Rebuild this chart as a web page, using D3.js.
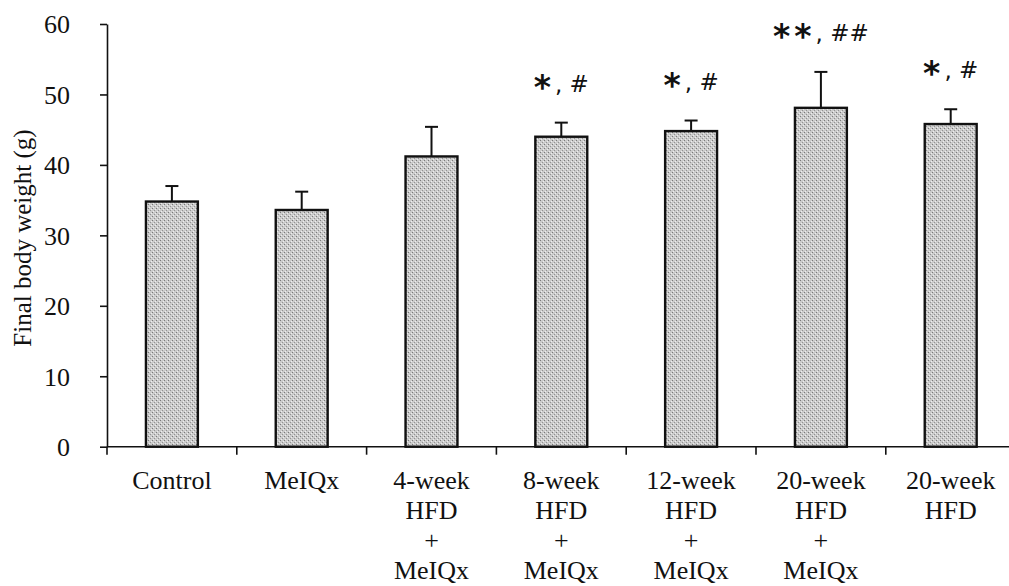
<!DOCTYPE html>
<html>
<head>
<meta charset="utf-8">
<script src="https://cdn.jsdelivr.net/npm/d3@7"></script>
<style>
  body { margin: 0; background: #fff; }
  svg { display: block; }
</style>
</head>
<body>
<div id="chart"></div>
<script>
// groups, mean final body weight (g) and SD
const groups = ["Control", "MeIQx", "4wk+MeIQx", "8wk+MeIQx", "12wk+MeIQx", "20wk+MeIQx", "20wk"];
const groupLabels = [
    ["Control"],
    ["MeIQx"],
    ["4-week", "HFD", "+", "MeIQx"],
    ["8-week", "HFD", "+", "MeIQx"],
    ["12-week", "HFD", "+", "MeIQx"],
    ["20-week", "HFD", "+", "MeIQx"],
    ["20-week", "HFD"]
];
const means = [34.8, 33.6, 41.2, 44.0, 44.8, 48.1, 45.8];
const sds = [2.2, 2.6, 4.2, 2.0, 1.5, 5.1, 2.1];
const stars = ["", "", "", "*", "*", "**", "*"];
const hashes = ["", "", "", "#", "#", "##", "#"];
const yTicks = [0, 10, 20, 30, 40, 50, 60];

const data = groups.map((g, i) => ({
    group: g, mean: means[i], sd: sds[i], star: stars[i], hash: hashes[i], lines: groupLabels[i]
}));

const W = 1009, H = 586;
const x0 = 107, bandW = 129.8;

const svg = d3.select("#chart").append("svg")
    .attr("width", W)
    .attr("height", H);

// stipple fill for the bars
const defs = svg.append("defs");
const pat = defs.append("pattern")
    .attr("id", "stipple")
    .attr("width", 4).attr("height", 4)
    .attr("patternUnits", "userSpaceOnUse");
pat.append("rect").attr("width", 4).attr("height", 4).attr("fill", "#cbcbcb");
pat.append("rect").attr("x", 0).attr("y", 0).attr("width", 1).attr("height", 1).attr("fill", "#7a7a7a");
pat.append("rect").attr("x", 2).attr("y", 2).attr("width", 1).attr("height", 1).attr("fill", "#939393");
pat.append("rect").attr("x", 3).attr("y", 1).attr("width", 1).attr("height", 1).attr("fill", "#eeeeee");
pat.append("rect").attr("x", 1).attr("y", 3).attr("width", 1).attr("height", 1).attr("fill", "#eeeeee");

const x = d3.scaleBand()
    .domain(groups)
    .range([x0, x0 + bandW * groups.length])
    .padding(0);

const y = d3.scaleLinear()
    .domain([0, 60])
    .range([446.7, 24]);

const barW = x.bandwidth() * 0.4;
const serif = "'Liberation Serif', 'Times New Roman', serif";

// bars
svg.selectAll(".bar")
    .data(data)
    .enter().append("rect")
    .attr("class", "bar")
    .attr("x", d => x(d.group) + (x.bandwidth() - barW) / 2)
    .attr("y", d => y(d.mean))
    .attr("width", barW)
    .attr("height", d => y(0) - y(d.mean))
    .attr("fill", "url(#stipple)")
    .attr("stroke", "#111")
    .attr("stroke-width", 2.4);

// error bars (upper only)
const err = svg.selectAll(".err")
    .data(data)
    .enter().append("g")
    .attr("class", "err")
    .attr("stroke", "#111")
    .attr("stroke-width", 2);
err.append("line")
    .attr("x1", d => x(d.group) + x.bandwidth() / 2)
    .attr("x2", d => x(d.group) + x.bandwidth() / 2)
    .attr("y1", d => y(d.mean))
    .attr("y2", d => y(d.mean + d.sd));
err.append("line")
    .attr("x1", d => x(d.group) + x.bandwidth() / 2 - 6.5)
    .attr("x2", d => x(d.group) + x.bandwidth() / 2 + 6.5)
    .attr("y1", d => y(d.mean + d.sd))
    .attr("y2", d => y(d.mean + d.sd));

// significance marks: big low asterisks, then ", #"
const mk = svg.selectAll(".mark")
    .data(data.filter(d => d.star))
    .enter().append("text")
    .attr("class", "mark")
    .attr("x", d => x(d.group) + x.bandwidth() / 2)
    .attr("y", d => y(d.mean + d.sd) - 31)
    .attr("text-anchor", "middle")
    .style("font-family", "'DejaVu Sans', sans-serif")
    .style("fill", "#111");
mk.append("tspan")
    .attr("dy", 7)
    .style("font-size", "33px")
    .style("font-weight", "bold")
    .style("letter-spacing", "4px")
    .text(d => d.star);
mk.append("tspan")
    .attr("dy", -7)
    .style("font-size", "23px")
    .text(d => ", " + d.hash);

// y axis
const yAxis = svg.append("g")
    .attr("transform", "translate(" + x0 + ",0)")
    .call(d3.axisLeft(y).tickValues(yTicks).tickSize(7).tickSizeOuter(0).tickPadding(30));
yAxis.select(".domain").attr("stroke", "#111").attr("stroke-width", 1.6);
yAxis.selectAll(".tick line").attr("stroke", "#111").attr("stroke-width", 1.6);
yAxis.selectAll(".tick text")
    .attr("fill", "#111")
    .style("font-family", serif)
    .style("font-size", "26px")
    .attr("dy", "0.34em");

// x axis: ticks at group boundaries, running off the right edge
svg.append("line")
    .attr("x1", x0).attr("x2", W)
    .attr("y1", y(0)).attr("y2", y(0))
    .attr("stroke", "#111").attr("stroke-width", 1.6);
svg.selectAll(".xtick")
    .data(d3.range(groups.length + 1))
    .enter().append("line")
    .attr("class", "xtick")
    .attr("x1", i => x0 + i * x.step())
    .attr("x2", i => x0 + i * x.step())
    .attr("y1", y(0))
    .attr("y2", y(0) + 8)
    .attr("stroke", "#111").attr("stroke-width", 1.6);

// multi-line group labels
const lab = svg.selectAll(".xlabel")
    .data(data)
    .enter().append("text")
    .attr("class", "xlabel")
    .attr("text-anchor", "middle")
    .style("font-family", serif)
    .style("font-size", "26px")
    .style("fill", "#111");
lab.selectAll("tspan")
    .data(d => d.lines.map(l => ({ l, cx: x(d.group) + x.bandwidth() / 2 })))
    .enter().append("tspan")
    .attr("x", d => d.cx)
    .attr("y", (d, i) => 488.5 + i * 30)
    .text(d => d.l);

// y axis title
svg.append("text")
    .attr("transform", "translate(31,238) rotate(-90)")
    .attr("text-anchor", "middle")
    .style("font-family", serif)
    .style("font-size", "25px")
    .style("fill", "#111")
    .text("Final body weight (g)");
</script>
</body>
</html>
